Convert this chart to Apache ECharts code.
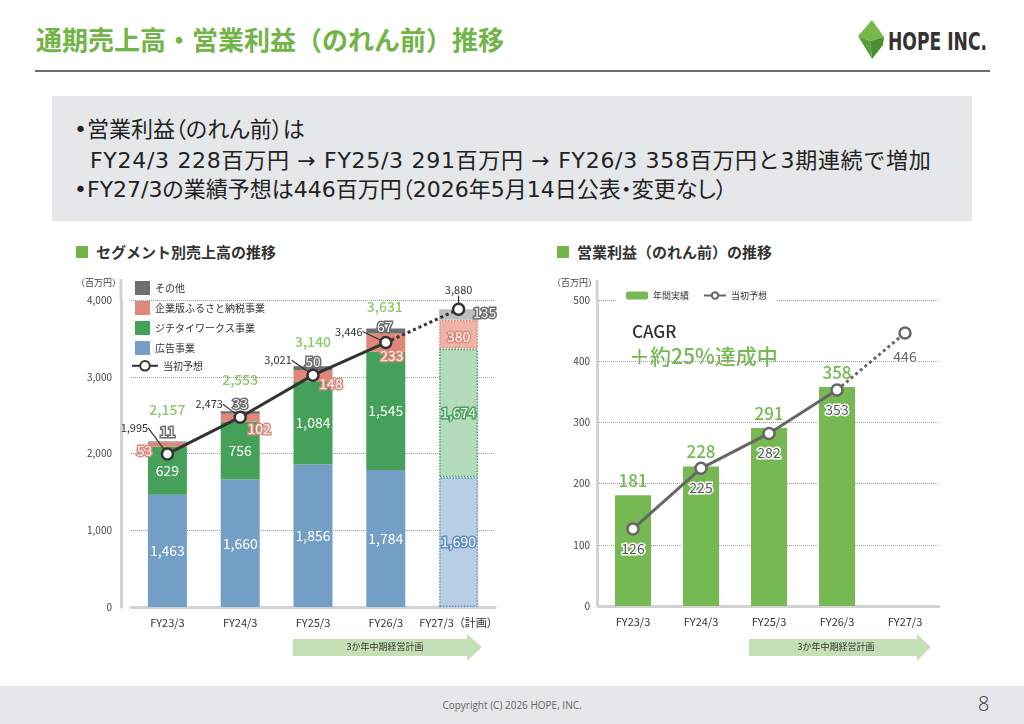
<!DOCTYPE html>
<html>
<head>
<meta charset="utf-8">
<script src="https://cdn.jsdelivr.net/npm/echarts@6/dist/echarts.min.js"></script>
<style>
body{margin:0;width:1024px;height:724px;position:relative;background:#fff;overflow:hidden;font-family:'Noto Sans CJK JP',sans-serif;color:#222;}
.abs{position:absolute;white-space:nowrap;}
#title{left:36px;top:20px;font-size:26px;font-weight:bold;color:#72b447;}
#rule{left:35px;top:70px;width:955px;height:2px;background:#6d6d6d;}
#box{left:52px;top:96px;width:920px;height:125px;background:#e6e7e8;}
.line{font-size:22px;line-height:26px;color:#222;font-family:'DejaVu Sans','Noto Sans CJK JP',sans-serif;}
.palt{font-feature-settings:"palt";}
.sec{font-size:15px;font-weight:bold;color:#333;line-height:20px;}
.sq{width:12px;height:12px;background:#72b447;}
#foot{left:0;top:686px;width:1024px;height:38px;background:#e6e7e8;}
#copy{left:0;width:1024px;top:698px;text-align:center;font-size:10px;color:#666;font-family:'Open Sans',sans-serif;}
#page{left:978px;top:690px;font-size:20px;color:#444;font-family:'Open Sans',sans-serif;font-weight:300;}
.chart{position:absolute;left:0;top:0;width:1024px;height:724px;}
</style>
</head>
<body>
<div class="abs" id="title">通期売上高・営業利益（のれん前）推移</div>
<svg class="abs" style="left:850px;top:14px" width="150" height="52">
  <polygon points="22,6 34,23 20,27 8,22" fill="#7ab648"/>
  <polygon points="8,22 20,27 22,45 " fill="#5a9e3c"/>
  <polygon points="20,27 34,23 33,31 22,45" fill="#4a8f33"/>
  <text x="38" y="36" textLength="99" lengthAdjust="spacingAndGlyphs" font-family="DejaVu Sans Condensed" font-weight="bold" font-size="24" fill="#333">HOPE INC.</text>
</svg>
<div class="abs" id="rule"></div>
<div class="abs" id="box"></div>
<div class="abs line palt" style="left:74px;top:117px;">•営業利益（のれん前）は</div>
<div class="abs line" style="left:90px;top:148px;letter-spacing:0.7px;">FY24/3 228百万円 → FY25/3 291百万円 → FY26/3 358百万円と3期連続で増加</div>
<div class="abs line palt" style="left:74px;top:177px;">•FY27/3の業績予想は446百万円（2026年5月14日公表・変更なし）</div>
<div class="abs sq" style="left:76px;top:246px;"></div>
<div class="abs sec" style="left:96px;top:242px;">セグメント別売上高の推移</div>
<div class="abs sq" style="left:557px;top:246px;"></div>
<div class="abs sec" style="left:577px;top:242px;">営業利益（のれん前）の推移</div>
<div class="abs" id="foot"></div>
<div class="abs" id="copy">Copyright (C) 2026 HOPE, INC.</div>
<div class="abs" id="page">8</div>
<div class="chart" id="left"></div>
<div class="chart" id="right"></div>
<script>
// 売上高（百万円）
var categories = ['FY23/3', 'FY24/3', 'FY25/3', 'FY26/3', 'FY27/3（計画）'];
var adSales = [1463, 1660, 1856, 1784, 1690];
var jichitaiSales = [629, 756, 1084, 1545, 1674];
var furusatoSales = [53, 102, 148, 233, 380];
var otherSales = [11, 33, 50, 67, 135];
var totalSales = [2157, 2553, 3140, 3631];
var salesForecast = [1995, 2473, 3021, 3446, 3880];

// 営業利益（のれん前）
var profitCategories = ['FY23/3', 'FY24/3', 'FY25/3', 'FY26/3', 'FY27/3'];
var opProfit = [181, 228, 291, 358];
var profitForecast = [126, 225, 282, 353, 446];

// label shifts (px)
var otherShift = [[0, -10], [0, -9], [0, -6], [-1, -4], [26, -2]];
var furusatoShift = [[-23, 6], [19, 11], [18, 8], [6, 13], [0, 2]];
var totalShift = [[0, -32], [0, -31], [0, -24], [-1, -22]];
var forecastShift = [[-33, -26], [-31, -13], [-35, -15], [-37, -11], [0, -19]];

var FONT = 'Noto Sans CJK JP';
var PLAN = 4;

function pad(arr, n) {
  var out = arr.slice();
  while (out.length < n) out.push('-');
  return out;
}

function segData(values, planColor, planBorder, shift, labelBorder) {
  return values.map(function (v, i) {
    var item = { value: v, label: {} };
    if (shift) item.label.offset = shift[i];
    if (labelBorder) {
      item.label.textBorderColor = labelBorder;
      item.label.textBorderWidth = 3;
    }
    if (i === PLAN) {
      item.itemStyle = { color: planColor, borderColor: planBorder, borderWidth: planBorder ? 1.5 : 0, borderType: 'dotted' };
      if (!labelBorder) {
        item.label.textBorderColor = planBorder;
        item.label.textBorderWidth = 3;
      }
    }
    return item;
  });
}

function thousands(v) { return Number(v).toLocaleString('en-US'); }

var segLabel = { show: true, position: 'inside', color: '#fff', fontSize: 14, fontFamily: FONT, formatter: function (p) { return thousands(p.value); } };

function forecastLayout(p) {
  var d = forecastShift[p.dataIndex];
  return { x: p.rect.x + p.rect.width / 2 + d[0], y: p.rect.y + p.rect.height / 2 + d[1], align: 'center', verticalAlign: 'middle' };
}

var left = echarts.init(document.getElementById('left'));
left.setOption({
  animation: false,
  textStyle: { fontFamily: FONT },
  grid: { left: 131, right: 529, top: 300, bottom: 117 },
  legend: [{
    data: ['その他', '企業版ふるさと納税事業', 'ジチタイワークス事業', '広告事業'],
    orient: 'vertical', left: 130, top: 276, itemWidth: 15, itemHeight: 14, itemGap: 6,
    icon: 'rect', selectedMode: false,
    textStyle: { fontSize: 10, color: '#333', fontFamily: FONT }
  }, {
    data: ['当初予想'],
    left: 126, top: 355, itemWidth: 26, itemHeight: 12, selectedMode: false,
    textStyle: { fontSize: 10, color: '#333', fontFamily: FONT }
  }],
  xAxis: {
    type: 'category', data: categories,
    axisLine: { lineStyle: { color: '#d2d2d2', width: 3 } },
    axisTick: { show: false },
    axisLabel: { interval: 0, color: '#333', fontSize: 11, margin: 10, fontFamily: FONT }
  },
  yAxis: {
    type: 'value', min: 0, max: 4000, interval: 1000, offset: 10,
    axisLine: { show: true, lineStyle: { color: '#d2d2d2', width: 3 } },
    axisLabel: { color: '#444', fontSize: 10, margin: 9, formatter: thousands },
    splitLine: { lineStyle: { color: '#999', type: 'dotted' } }
  },
  graphic: [
    { type: 'line', shape: { x1: 121, y1: 279, x2: 121, y2: 300 }, style: { stroke: '#d2d2d2', lineWidth: 3 } },
    { type: 'text', left: 76, top: 278, style: { text: '（百万円）', fontSize: 9, fill: '#444', fontFamily: FONT } },
    { type: 'polygon', shape: { points: [[293, 639], [467, 639], [467, 634], [482, 647], [467, 661], [467, 656], [293, 656]] }, style: { fill: '#c5e0b4' } },
    { type: 'text', x: 385, y: 647, style: { text: '3か年中期経営計画', fontSize: 9, fill: '#333', align: 'center', verticalAlign: 'middle', fontFamily: FONT } }
  ],
  series: [{
    name: '広告事業', type: 'bar', stack: 's', barWidth: 39,
    itemStyle: { color: '#739fc7' }, label: segLabel,
    data: segData(adSales, '#b9cde4', '#5b8ec4')
  }, {
    name: 'ジチタイワークス事業', type: 'bar', stack: 's',
    itemStyle: { color: '#45a15a' }, label: segLabel,
    data: segData(jichitaiSales, '#b4dbbb', '#45a15a')
  }, {
    name: '企業版ふるさと納税事業', type: 'bar', stack: 's',
    itemStyle: { color: '#e0877a' }, label: segLabel,
    data: segData(furusatoSales, '#eeb3a9', '#e0877a', furusatoShift, '#e0877a')
  }, {
    name: 'その他', type: 'bar', stack: 's',
    itemStyle: { color: '#6d6e70' }, label: Object.assign({}, segLabel, { color: '#f4f4f4' }),
    data: segData(otherSales, '#bdbdbd', null, otherShift, '#6d6e70')
  }, {
    name: 'total', type: 'scatter', symbolSize: 0, z: 5,
    label: { show: true, position: 'inside', color: '#72b843', fontSize: 14, fontWeight: 500, fontFamily: FONT, formatter: function (p) { return thousands(p.value); } },
    data: totalSales.map(function (v, i) { return { value: v, label: { offset: totalShift[i] } }; })
  }, {
    name: '当初予想', type: 'line', z: 6, symbol: 'circle', symbolSize: 11,
    lineStyle: { color: '#333', width: 3 },
    itemStyle: { color: '#fff', borderColor: '#333', borderWidth: 2.5 },
    label: { show: true, color: '#333', fontSize: 11, fontFamily: FONT, formatter: function (p) { return thousands(p.value); } },
    labelLine: { show: true, lineStyle: { color: '#333', width: 1.2 } },
    labelLayout: forecastLayout,
    data: pad(salesForecast.slice(0, 4), 5)
  }, {
    name: '当初予想', type: 'line', z: 6, symbol: 'circle', symbolSize: 11,
    lineStyle: { color: '#333', width: 3, type: 'dotted' },
    itemStyle: { color: '#fff', borderColor: '#333', borderWidth: 2.5 },
    label: { show: true, color: '#333', fontSize: 11, fontFamily: FONT, formatter: function (p) { return p.dataIndex === PLAN ? thousands(p.value) : ''; } },
    labelLine: { show: true, lineStyle: { color: '#333', width: 1.2 } },
    labelLayout: forecastLayout,
    data: salesForecast.map(function (v, i) {
      if (i < 3) return '-';
      if (i === 3) return { value: v, symbol: 'none', label: { show: false }, labelLine: { show: false } };
      return v;
    })
  }]
});

var right = echarts.init(document.getElementById('right'));
right.setOption({
  animation: false,
  textStyle: { fontFamily: FONT },
  grid: { left: 599, right: 85, top: 300, bottom: 118 },
  legend: {
    data: ['年間実績', '当初予想'], left: 616, top: 287, itemWidth: 22, itemHeight: 8, itemGap: 14,
    padding: [4, 10], backgroundColor: '#fff', selectedMode: false,
    textStyle: { fontSize: 9, color: '#333', fontFamily: FONT }
  },
  xAxis: {
    type: 'category', data: profitCategories,
    axisLine: { lineStyle: { color: '#d2d2d2', width: 3 } },
    axisTick: { show: false },
    axisLabel: { interval: 0, color: '#333', fontSize: 11, margin: 10, fontFamily: FONT }
  },
  yAxis: {
    type: 'value', min: 0, max: 500, interval: 100, offset: 2,
    axisLine: { show: true, lineStyle: { color: '#d2d2d2', width: 3 } },
    axisLabel: { color: '#444', fontSize: 10, margin: 7 },
    splitLine: { lineStyle: { color: '#999', type: 'dotted' } }
  },
  graphic: [
    { type: 'line', shape: { x1: 597, y1: 280, x2: 597, y2: 300 }, style: { stroke: '#d2d2d2', lineWidth: 3 } },
    { type: 'text', left: 552, top: 278, style: { text: '（百万円）', fontSize: 9, fill: '#444', fontFamily: FONT } },
    { type: 'text', left: 632, top: 323, style: { text: 'CAGR', fontSize: 17, fontWeight: 500, fill: '#333', fontFamily: FONT } },
    { type: 'text', left: 629, top: 346, style: { text: '＋約25%達成中', fontSize: 21, fontWeight: 500, fill: '#76b852', fontFamily: FONT } },
    { type: 'polygon', shape: { points: [[749, 639], [917, 639], [917, 634], [931, 647], [917, 661], [917, 656], [749, 656]] }, style: { fill: '#c5e0b4' } },
    { type: 'text', x: 836, y: 647, style: { text: '3か年中期経営計画', fontSize: 9, fill: '#333', align: 'center', verticalAlign: 'middle', fontFamily: FONT } }
  ],
  series: [{
    name: '年間実績', type: 'bar', barWidth: 36,
    itemStyle: { color: '#76b852' },
    label: { show: true, position: 'top', distance: 6, color: '#76b852', fontSize: 17, fontWeight: 500, fontFamily: FONT },
    data: pad(opProfit, 5)
  }, {
    name: '当初予想', type: 'line', z: 5, symbol: 'circle', symbolSize: 11,
    lineStyle: { color: '#666', width: 3 },
    itemStyle: { color: '#fff', borderColor: '#666', borderWidth: 2.5 },
    label: { show: true, position: 'bottom', distance: 6, color: '#555', fontSize: 14, textBorderColor: '#fff', textBorderWidth: 3, fontFamily: FONT },
    data: pad(profitForecast.slice(0, 4), 5)
  }, {
    name: '当初予想', type: 'line', z: 5, symbol: 'circle', symbolSize: 11,
    lineStyle: { color: '#666', width: 3, type: 'dotted' },
    itemStyle: { color: '#fff', borderColor: '#666', borderWidth: 2.5 },
    label: { show: true, position: 'bottom', distance: 10, color: '#666', fontSize: 14, textBorderColor: '#fff', textBorderWidth: 3, fontFamily: FONT },
    data: profitForecast.map(function (v, i) {
      if (i < 3) return '-';
      if (i === 3) return { value: v, symbol: 'none', label: { show: false } };
      return v;
    })
  }]
});
</script>
</body>
</html>
